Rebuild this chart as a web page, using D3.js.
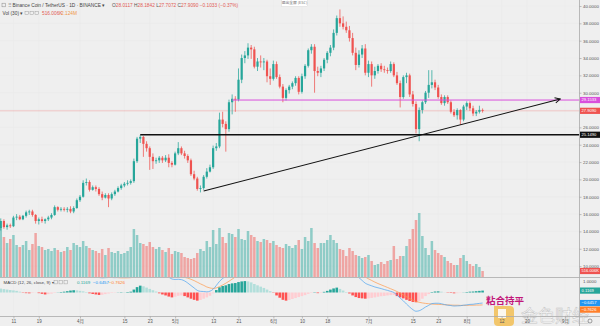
<!DOCTYPE html>
<html>
<head>
<meta charset="utf-8">
<script src="https://cdn.jsdelivr.net/npm/d3@7"></script>
<style>
  html, body { margin: 0; padding: 0; background: #efefef; }
  svg { display: block; font-family: "Liberation Sans", Arial, sans-serif; }
</style>
</head>
<body>
<svg id="chart" width="600" height="326"></svg>
<script>
// ---- data: BNB/USDT daily, first candle 2019-03-07 ----
const firstDay = "2019-03-07";

// [open, high, low, close]
const candles = [
  [14.4,15.5,14.1,15.2],[15.2,15.4,14.3,14.5],[14.5,14.9,14.2,14.7],[14.7,14.9,14.4,14.6],[14.6,15.8,14.5,15.6],
  [15.6,16.0,15.3,15.7],[15.7,15.9,15.3,15.4],[15.4,15.9,15.3,15.8],[15.8,16.4,15.6,16.2],[16.2,16.5,15.9,16.3],
  [16.3,16.5,15.7,15.9],[15.9,16.0,14.9,15.2],[15.2,15.6,14.8,15.4],[15.4,15.7,15.0,15.2],[15.2,15.5,14.9,15.4],
  [15.4,15.8,15.2,15.6],[15.6,16.1,15.4,15.9],[15.9,17.0,15.8,16.8],[16.8,16.9,16.3,16.5],[16.5,16.8,16.3,16.6],
  [16.6,16.8,16.3,16.5],[16.5,16.8,16.2,16.6],[16.6,16.9,16.1,16.3],[16.3,16.9,16.1,16.7],[16.7,17.8,16.6,17.6],
  [17.6,18.2,17.4,18.0],[18.0,19.9,17.9,19.6],[19.6,20.1,19.3,19.7],[19.7,19.9,18.6,18.8],[18.8,19.3,18.7,19.1],
  [19.1,19.3,18.6,18.9],[18.9,19.1,18.1,18.3],[18.3,18.6,17.6,17.9],[17.9,18.4,17.8,18.2],[18.2,18.4,16.8,17.8],
  [17.8,18.5,17.6,18.3],[18.3,18.8,18.1,18.6],[18.6,19.2,18.5,19.0],[19.0,19.5,18.8,19.3],[19.3,19.7,19.1,19.5],
  [19.5,19.9,19.3,19.6],[19.6,20.0,19.4,19.8],[19.8,22.4,19.6,22.1],[22.1,24.9,21.9,24.7],[24.7,25.1,24.2,24.9],
  [24.9,25.0,22.6,24.1],[24.1,24.4,23.2,23.6],[23.6,23.8,21.1,22.6],[22.6,23.0,21.2,22.1],[22.1,22.5,21.8,22.2],
  [22.2,22.7,21.9,22.5],[22.5,22.7,21.9,22.2],[22.2,22.8,22.0,22.5],[22.5,22.9,21.4,21.9],[21.9,22.1,21.4,21.7],
  [21.7,23.2,21.6,23.0],[23.0,24.3,22.8,23.6],[23.6,23.8,22.8,23.0],[23.0,23.3,22.4,22.7],[22.7,22.9,21.9,22.2],
  [22.2,22.4,20.4,20.6],[20.6,21.0,19.9,20.1],[20.1,20.3,18.7,18.9],[18.9,19.3,18.5,19.0],[19.0,20.5,18.8,20.3],
  [20.3,21.3,20.1,20.9],[20.9,21.7,20.8,21.4],[21.4,23.9,21.2,23.6],[23.6,24.2,23.3,23.8],[23.8,27.7,23.6,26.9],
  [26.9,27.8,26.0,26.4],[26.4,26.7,23.2,25.8],[25.8,29.2,25.5,28.9],[28.9,29.8,27.5,29.3],[29.3,29.6,27.8,29.2],
  [29.2,32.8,29.0,31.5],[31.5,34.4,31.1,34.0],[34.0,34.8,33.4,34.3],[34.3,35.7,33.9,35.2],[35.2,35.5,33.9,35.0],
  [35.0,35.3,32.8,33.0],[33.0,34.0,32.5,33.6],[33.6,34.3,32.9,33.5],[33.5,34.0,32.6,33.6],[33.6,33.8,31.2,31.9],
  [31.9,32.8,30.9,31.6],[31.6,33.7,31.4,33.3],[33.3,33.6,31.6,31.8],[31.8,32.1,30.5,30.7],[30.7,31.0,28.9,29.4],
  [29.4,30.5,29.1,30.3],[30.3,30.9,29.9,30.7],[30.7,31.3,30.4,31.1],[31.1,31.9,30.8,31.7],[31.7,31.9,29.8,30.1],
  [30.1,32.2,29.9,31.9],[31.9,33.3,31.6,33.1],[33.1,35.1,32.9,34.9],[34.9,35.6,34.5,35.3],[35.3,35.6,30.0,32.5],
  [32.5,33.0,31.9,32.3],[32.3,33.1,31.8,32.8],[32.8,34.0,32.5,33.8],[33.8,34.8,33.4,34.6],[34.6,35.5,34.2,35.2],
  [35.2,37.3,34.9,36.9],[36.9,38.9,36.6,38.6],[38.6,39.6,37.6,38.0],[38.0,38.8,37.3,37.6],[37.6,38.2,36.9,37.2],
  [37.2,37.7,35.9,36.3],[36.3,36.9,34.3,34.6],[34.6,35.2,32.6,33.2],[33.2,34.9,32.9,34.4],[34.4,35.5,34.0,35.1],
  [35.1,35.6,32.0,32.3],[32.3,33.7,31.8,33.3],[33.3,33.6,30.7,32.0],[32.0,33.0,31.6,32.5],[32.5,33.3,32.2,33.1],
  [33.1,33.4,32.4,32.7],[32.7,33.1,32.3,32.6],[32.6,32.9,32.2,32.5],[32.5,33.6,32.3,33.3],[33.3,33.5,31.8,32.0],
  [32.0,32.4,30.9,31.1],[31.1,31.4,28.3,29.5],[29.5,32.0,29.3,31.8],[31.8,32.3,31.1,32.0],[32.0,32.2,29.5,29.8],
  [29.8,30.2,28.4,28.7],[28.7,29.0,25.3,25.8],[25.8,28.3,24.4,28.0],[28.0,29.1,27.6,28.9],[28.9,30.2,28.7,30.0],
  [30.0,32.6,29.4,30.9],[30.9,32.6,30.5,31.2],[31.2,31.5,30.3,30.6],[30.6,30.9,29.3,29.5],[29.5,29.8,28.6,28.8],
  [28.8,29.7,28.5,29.5],[29.5,29.7,28.7,28.9],[28.9,29.1,27.6,27.8],[27.8,28.1,27.2,27.4],[27.4,28.2,26.9,28.0],
  [28.0,28.1,26.3,26.9],[26.9,28.6,26.7,28.4],[28.4,29.0,28.0,28.8],[28.8,29.0,27.9,28.2],[28.2,28.5,27.3,27.6],
  [27.6,28.0,27.3,27.8],[27.8,28.5,27.6,28.0123],[28.0117,28.1842,27.7072,27.9090]
];

// daily volume, thousands of BNB
const volumes = [
  4300,3440,2924,3268,3612,2752,2580,2752,3096,2322, 2838,3784,2666,2580,2322,2408,2236,2494,2322,2150,
  2236,2580,2322,2924,2752,2580,3096,2666,2494,2322, 2236,2064,2408,1892,2494,2150,2064,2236,1978,2064,
  2236,2580,4128,3612,2924,2838,2666,3010,2580,2408, 2580,2322,2150,2494,1978,2236,2150,2064,1720,1634,
  1548,1634,2064,2408,2236,3096,2580,4042,2838,4214, 3440,2924,3784,3698,3440,4128,3268,3182,3956,3612,
  3440,3096,3010,3268,3182,2924,3096,2752,2580,2494, 2838,2666,2494,2752,3182,2408,3440,3096,4214,2924,
  2494,2924,2924,3182,3612,3182,2924,2408,2322,1806, 2494,2236,1892,1806,1634,1720,1892,1376,1032,1118,
  1290,1118,1376,1462,2666,1548,1806,1806,2666,3268, 4128,4902,5504,3526,2494,1892,3096,2322,2064,1892,
  1720,1376,1204,1032,1032,1634,1892,1376,1118,946, 1118,860,516.006
];
const volumeMA = 2124;

// MACD (12, 26, close, 9)
const macdLine = [
  1.84,1.79,1.74,1.69,1.65,1.60,1.53,1.44,1.41,1.39, 1.40,1.41,1.36,1.30,1.23,1.22,1.22,1.23,1.25,1.25,
  1.25,1.27,1.30,1.32,1.31,1.28,1.24,1.19,1.10,1.04, 0.98,0.92,0.90,0.91,0.92,0.92,0.91,0.92,0.92,0.92,
  0.93,0.96,1.12,1.32,1.48,1.51,1.49,1.46,1.41,1.35, 1.24,1.15,1.06,0.94,0.83,0.80,0.81,0.79,0.71,0.58,
  0.43,0.28,0.13,0.07,0.06,0.04,0.08,0.20,0.43,0.68, 0.86,1.01,1.21,1.38,1.53,1.72,1.90,2.06,2.18,2.25,
  2.27,2.29,2.29,2.27,2.21,2.13,2.03,1.85,1.67,1.47, 1.33,1.28,1.25,1.23,1.22,1.22,1.23,1.28,1.31,1.35,
  1.29,1.30,1.37,1.45,1.56,1.67,1.78,1.76,1.70,1.63, 1.52,1.34,1.12,0.91,0.74,0.57,0.48,0.41,0.34,0.29,
  0.24,0.18,0.13,0.07,0.00,-0.16,-0.34,-0.51,-0.71,-0.89, -1.05,-1.15,-1.12,-1.02,-0.89,-0.79,-0.68,-0.66,-0.66,-0.69,
  -0.74,-0.78,-0.80,-0.83,-0.82,-0.81,-0.78,-0.76,-0.73,-0.72, -0.69,-0.67,-0.6457
];
const signalLine = [
  1.60,1.58,1.56,1.54,1.52,1.50,1.48,1.46,1.45,1.44, 1.43,1.42,1.40,1.38,1.35,1.32,1.29,1.26,1.24,1.22,
  1.20,1.19,1.18,1.18,1.18,1.18,1.17,1.16,1.15,1.13, 1.10,1.07,1.04,1.01,0.98,0.95,0.93,0.91,0.90,0.90,
  0.90,0.91,0.94,0.99,1.06,1.13,1.19,1.24,1.27,1.29, 1.29,1.27,1.24,1.19,1.13,1.06,1.01,0.97,0.93,0.88,
  0.81,0.73,0.63,0.53,0.44,0.34,0.28,0.25,0.28,0.36, 0.46,0.57,0.69,0.82,0.95,1.08,1.22,1.36,1.50,1.63,
  1.75,1.85,1.93,1.99,2.03,2.05,2.05,2.03,1.99,1.92, 1.83,1.74,1.65,1.57,1.50,1.44,1.39,1.36,1.34,1.33,
  1.33,1.33,1.33,1.35,1.38,1.42,1.48,1.54,1.58,1.60, 1.58,1.52,1.40,1.25,1.10,0.95,0.84,0.74,0.64,0.55,
  0.47,0.39,0.31,0.23,0.15,0.06,-0.04,-0.15,-0.26,-0.37, -0.47,-0.55,-0.60,-0.64,-0.67,-0.69,-0.71,-0.72,-0.73,-0.74,
  -0.75,-0.76,-0.77,-0.78,-0.78,-0.79,-0.79,-0.79,-0.78,-0.78, -0.77,-0.77,-0.7626
];
const histogram = [
  0.24,0.21,0.18,0.15,0.13,0.10,0.05,-0.02,-0.04,-0.05, -0.03,-0.01,-0.04,-0.08,-0.12,-0.10,-0.07,-0.03,0.01,0.03,
  0.05,0.08,0.12,0.14,0.13,0.10,0.07,0.03,-0.05,-0.09, -0.12,-0.15,-0.14,-0.10,-0.06,-0.03,-0.02,0.01,0.02,0.02,
  0.03,0.05,0.18,0.33,0.42,0.38,0.30,0.22,0.14,0.06, -0.05,-0.12,-0.18,-0.25,-0.30,-0.26,-0.20,-0.18,-0.22,-0.30,
  -0.38,-0.45,-0.50,-0.46,-0.38,-0.30,-0.20,-0.05,0.15,0.32, 0.40,0.44,0.52,0.56,0.58,0.64,0.68,0.70,0.68,0.62,
  0.52,0.44,0.36,0.28,0.18,0.08,-0.02,-0.18,-0.32,-0.45, -0.50,-0.46,-0.40,-0.34,-0.28,-0.22,-0.16,-0.08,-0.03,0.02,
  -0.04,-0.03,0.04,0.10,0.18,0.25,0.30,0.22,0.12,0.03, -0.06,-0.18,-0.28,-0.34,-0.36,-0.38,-0.36,-0.33,-0.30,-0.26,
  -0.23,-0.21,-0.18,-0.16,-0.15,-0.22,-0.30,-0.36,-0.45,-0.52, -0.58,-0.60,-0.52,-0.38,-0.22,-0.10,0.03,0.06,0.07,0.05,
  0.01,-0.02,-0.03,-0.05,-0.04,-0.02,0.01,0.03,0.05,0.06, 0.08,0.10,0.1169
];

// axis ticks
const priceTicks = [40, 38, 36, 34, 32, 30, 28, 26, 24, 22, 20, 18, 16, 14, 12, 10];
const macdTicks = [1];
const timeTickDates = ["2019-03-11","2019-03-19","2019-04-01","2019-04-15","2019-04-23","2019-05-01",
  "2019-05-13","2019-05-21","2019-06-01","2019-06-10","2019-06-18","2019-07-01","2019-07-15",
  "2019-07-23","2019-08-01","2019-08-12","2019-08-20","2019-09-01"];
const timeTickLabels = ["11","19","4月","15","23","5月","13","21","6月","10","18","7月","15","23","8月","12","20","9月"];

// drawn levels
const resistanceLevel = 29.1533;   // magenta horizontal
const supportLevel = 25.1490;      // black horizontal
const resistanceFrom = "2019-05-19";
const supportFrom = "2019-04-20";
const trendStart = { date: "2019-05-10", price: 18.66 };
const trendEnd = { date: "2019-08-30T12:00:00Z", price: 29.27 };

// ---- layout ----
const W = 600, H = 326;
const axisX = 579.5;
const mainBottom = 277.5, macdBottom = 316.5;
const upColor = "#26a69a", downColor = "#ef5350";

const svg = d3.select("#chart");
svg.append("rect").attr("width", W).attr("height", H).attr("fill", "#efefef");

const dates = candles.map((_, i) => d3.utcDay.offset(new Date(firstDay + "T00:00:00Z"), i));
const parse = s => new Date(s.length > 10 ? s : s + "T00:00:00Z");

const x = d3.scaleUtc().domain([parse("2019-03-07"), parse("2019-09-01")]).range([0.75, 565]);
const y = d3.scaleLinear().domain([10, 40]).range([266.1, 6]);
const yVol = d3.scaleLinear().domain([0, d3.max(volumes)]).range([277, 213]);
const yMacd = d3.scaleLinear().domain([0, 1]).range([292.5, 276.2]);

const defs = svg.append("defs");
defs.append("clipPath").attr("id", "clipMain").append("rect")
  .attr("x", 0).attr("y", 0).attr("width", axisX).attr("height", mainBottom);
defs.append("clipPath").attr("id", "clipMacd").append("rect")
  .attr("x", 0).attr("y", mainBottom + 0.5).attr("width", axisX).attr("height", macdBottom - mainBottom - 1);
defs.append("marker").attr("id", "arrowHead")
  .attr("viewBox", "0 0 8 8").attr("refX", 7).attr("refY", 4)
  .attr("markerWidth", 7).attr("markerHeight", 7).attr("markerUnits", "userSpaceOnUse")
  .attr("orient", "auto")
  .append("path").attr("d", "M1,1 L7,4 L1,7").attr("fill", "none")
  .attr("stroke", "#111").attr("stroke-width", 1.1);

// grid
const grid = svg.append("g").attr("stroke", "#e8e8e8").attr("stroke-width", 0.5);
grid.selectAll("line.h").data(priceTicks).join("line")
  .attr("x1", 0).attr("x2", axisX).attr("y1", d => y(d)).attr("y2", d => y(d));
grid.selectAll("line.v").data(timeTickDates).join("line")
  .attr("x1", d => x(parse(d))).attr("x2", d => x(parse(d))).attr("y1", 0).attr("y2", macdBottom);

// ---- main pane ----
const main = svg.append("g").attr("clip-path", "url(#clipMain)");
const isUp = i => candles[i][3] >= candles[i][0];

// volume bars
main.append("g").selectAll("rect").data(volumes).join("rect")
  .attr("x", (d, i) => x(dates[i]) - 1.25)
  .attr("width", 2.5)
  .attr("y", d => yVol(d))
  .attr("height", d => 277 - yVol(d))
  .attr("fill", (d, i) => isUp(i) ? "rgba(38,166,154,0.48)" : "rgba(239,83,80,0.48)");

// last price line
const lastClose = candles[candles.length - 1][3];
main.append("line").attr("x1", 0).attr("x2", axisX)
  .attr("y1", y(lastClose)).attr("y2", y(lastClose))
  .attr("stroke", downColor).attr("stroke-opacity", 0.45).attr("stroke-width", 0.6);

// candles
const cg = main.append("g");
cg.selectAll("line").data(candles).join("line")
  .attr("x1", (d, i) => x(dates[i])).attr("x2", (d, i) => x(dates[i]))
  .attr("y1", d => y(d[1])).attr("y2", d => y(d[2]))
  .attr("stroke", (d, i) => isUp(i) ? upColor : downColor).attr("stroke-width", 0.75);
cg.selectAll("rect").data(candles).join("rect")
  .attr("x", (d, i) => x(dates[i]) - 1.1).attr("width", 2.2)
  .attr("y", d => y(Math.max(d[0], d[3])))
  .attr("height", d => Math.max(0.7, Math.abs(y(d[0]) - y(d[3]))))
  .attr("fill", (d, i) => isUp(i) ? upColor : downColor);

// horizontal levels and trend line
main.append("line").attr("x1", x(parse(resistanceFrom))).attr("x2", axisX)
  .attr("y1", y(resistanceLevel)).attr("y2", y(resistanceLevel))
  .attr("stroke", "#d94fdc").attr("stroke-width", 1);
main.append("line").attr("x1", x(parse(supportFrom))).attr("x2", axisX)
  .attr("y1", y(supportLevel)).attr("y2", y(supportLevel))
  .attr("stroke", "#111").attr("stroke-width", 1.3);
main.append("line")
  .attr("x1", x(parse(trendStart.date))).attr("y1", y(trendStart.price))
  .attr("x2", x(parse(trendEnd.date))).attr("y2", y(trendEnd.price))
  .attr("stroke", "#111").attr("stroke-width", 1.1)
  .attr("marker-end", "url(#arrowHead)");

// ---- MACD pane ----
const mp = svg.append("g").attr("clip-path", "url(#clipMacd)");
mp.append("g").selectAll("rect").data(histogram).join("rect")
  .attr("x", (d, i) => x(dates[i]) - 1.3).attr("width", 2.6)
  .attr("y", d => Math.min(yMacd(d), yMacd(0)))
  .attr("height", d => Math.abs(yMacd(d) - yMacd(0)))
  .attr("fill", (d, i) => {
    const prev = i > 0 ? histogram[i - 1] : d;
    if (d >= 0) return d > prev ? "#26a69a" : "#b2dfdb";
    return d < prev ? "#ff5252" : "#ffcdd2";
  });
const macdPath = d3.line().x((d, i) => x(dates[i])).y(d => yMacd(d)).curve(d3.curveMonotoneX);
mp.append("path").attr("d", macdPath(signalLine)).attr("fill", "none")
  .attr("stroke", "#ff9a4a").attr("stroke-width", 0.7);
mp.append("path").attr("d", macdPath(macdLine)).attr("fill", "none")
  .attr("stroke", "#4aa3f0").attr("stroke-width", 0.7);

// ---- watermark (under the axes text) ----
const wm = svg.append("g").attr("opacity", 0.85);
wm.append("path").attr("d", "M494,306 h16 a4,4 0 0 1 4,4 v12 a4,4 0 0 1 -4,4 h-12 a4,4 0 0 1 -4,-4 z")
  .attr("fill", "#f3b73a").attr("opacity", 0.85);
wm.append("rect").attr("x", 498).attr("y", 309).attr("width", 8).attr("height", 9).attr("fill", "#fff").attr("opacity", 0.9);
wm.append("text").attr("x", 521).attr("y", 322.3).attr("font-size", 17)
  .attr("font-family", "'Noto Sans CJK SC', sans-serif")
  .attr("fill", "#fff").attr("stroke", "#bdbdbd").attr("stroke-width", 0.5).text("金色财经");

// ---- frames ----
const frame = svg.append("g").attr("stroke", "#a9a9a9").attr("stroke-width", 0.8);
frame.append("line").attr("x1", 0).attr("x2", W).attr("y1", mainBottom).attr("y2", mainBottom);
frame.append("line").attr("x1", 0).attr("x2", W).attr("y1", macdBottom).attr("y2", macdBottom);
frame.append("line").attr("x1", axisX).attr("x2", axisX).attr("y1", 0).attr("y2", H);

// price axis
const fmt4 = d3.format(".4f");
const badges = [
  { y: y(resistanceLevel), fill: "#d94fdc", text: fmt4(resistanceLevel) },
  { y: y(lastClose), fill: "#ef5350", text: fmt4(lastClose) },
  { y: y(supportLevel), fill: "#111111", text: fmt4(supportLevel) },
  { y: yVol(volumes[volumes.length - 1]), fill: "#ef5350",
    text: d3.format(".3f")(volumes[volumes.length - 1]) + "K" }
];
const visibleTicks = priceTicks.filter(t => badges.every(b => Math.abs(y(t) - b.y) > 3));
const pAxis = svg.append("g").attr("transform", `translate(${axisX},0)`)
  .call(d3.axisRight(y).tickValues(visibleTicks).tickFormat(fmt4).tickSize(2).tickPadding(1.5));
pAxis.select(".domain").remove();
pAxis.selectAll("line").attr("stroke", "#999").attr("stroke-width", 0.6);
pAxis.selectAll("text").attr("font-size", 4.4).attr("fill", "#555")
  .attr("font-family", "Liberation Sans, Arial, sans-serif");

// MACD axis
const mAxis = svg.append("g").attr("transform", `translate(${axisX},0)`);
mAxis.selectAll("text").data(macdTicks).join("text")
  .attr("x", 3.5).attr("y", d => Math.max(yMacd(d), mainBottom + 4))
  .attr("dy", "0.35em").attr("font-size", 4.4).attr("fill", "#555").text(fmt4);

// value badges on the right
function drawBadges(list) {
  const sorted = list.slice().sort((a, b) => a.y - b.y);
  for (let k = 1; k < sorted.length; k++) {
    if (sorted[k].y - sorted[k - 1].y < 6.6) sorted[k].y = sorted[k - 1].y + 6.6;
  }
  const bg = svg.append("g");
  sorted.forEach(b => {
    bg.append("rect").attr("x", axisX + 0.5).attr("y", b.y - 3.1)
      .attr("width", W - axisX - 0.5).attr("height", 6.2).attr("fill", b.fill);
    bg.append("text").attr("x", axisX + 2).attr("y", b.y).attr("dy", "0.35em")
      .attr("font-size", 4.1).attr("fill", "#fff").text(b.text);
  });
}
drawBadges(badges);
const lastI = histogram.length - 1;
drawBadges([
  { y: yMacd(histogram[lastI]), fill: "#26a69a", text: fmt4(histogram[lastI]) },
  { y: yMacd(macdLine[lastI]), fill: "#2196f3", text: fmt4(macdLine[lastI]) },
  { y: yMacd(signalLine[lastI]), fill: "#ff7f2a", text: fmt4(signalLine[lastI]) }
]);

// time axis
const tAxis = svg.append("g").attr("transform", `translate(0,${macdBottom})`)
  .call(d3.axisBottom(x).tickValues(timeTickDates.map(parse))
    .tickFormat((d, i) => timeTickLabels[i]).tickSize(2).tickPadding(1.2));
tAxis.select(".domain").remove();
tAxis.selectAll("line").attr("stroke", "#999").attr("stroke-width", 0.6);
tAxis.selectAll("text").attr("font-size", 4.5).attr("fill", "#555")
  .attr("font-family", "Liberation Sans, 'Noto Sans CJK SC', sans-serif");

// settings glyph in the corner
svg.append("circle").attr("cx", 590).attr("cy", 321).attr("r", 2)
  .attr("fill", "none").attr("stroke", "#666").attr("stroke-width", 0.6);

// ---- legends ----
const legend = svg.append("g").attr("font-size", 4.8).attr("fill", "#444");
legend.append("rect").attr("x", 2).attr("y", 3.2).attr("width", 3.6).attr("height", 3.6)
  .attr("fill", "none").attr("stroke", "#888").attr("stroke-width", 0.5);
legend.append("text").attr("x", 8).attr("y", 7).attr("fill", "#888").text("⠿");
legend.append("text").attr("x", 12.5).attr("y", 7).text("Binance Coin / TetherUS · 1D · BINANCE ▾");
const last = candles[lastI];
const prevClose = candles[lastI - 1][3];
const change = last[3] - prevClose;
const ohlc = legend.append("text").attr("x", 112).attr("y", 7);
[["O", last[0]], ["H", last[1]], ["L", last[2]], ["C", last[3]]].forEach(([k, v]) => {
  ohlc.append("tspan").attr("fill", "#555").text(k);
  ohlc.append("tspan").attr("fill", "#e25b55").text(fmt4(v) + " ");
});
ohlc.append("tspan").attr("fill", "#e25b55")
  .text(`${fmt4(change).replace("-", "−")} (${d3.format(".2f")(change / prevClose * 100).replace("-", "−")}%)`);

legend.append("text").attr("x", 2.5).attr("y", 15).text("Vol (30) ▾");
[25, 30, 35].forEach(px => legend.append("rect").attr("x", px).attr("y", 11.3)
  .attr("width", 3.4).attr("height", 3.4).attr("fill", "none").attr("stroke", "#999").attr("stroke-width", 0.45));
legend.append("text").attr("x", 42).attr("y", 15).attr("fill", "#e25b55")
  .text(d3.format(".3f")(volumes[lastI]) + "K");
legend.append("text").attr("x", 61).attr("y", 15).attr("fill", "#f0984a")
  .text(d3.format(".3f")(volumeMA / 1000) + "M");

const ml = svg.append("g").attr("font-size", 4.4).attr("fill", "#444");
ml.append("text").attr("x", 3.5).attr("y", 284).text("MACD (12, 26, close, 9) ▾");
[54, 59, 64].forEach(px => ml.append("rect").attr("x", px).attr("y", 280.6)
  .attr("width", 3.3).attr("height", 3.3).attr("fill", "none").attr("stroke", "#999").attr("stroke-width", 0.45));
ml.append("text").attr("x", 77).attr("y", 284).attr("fill", "#26a69a").text(fmt4(histogram[lastI]));
ml.append("text").attr("x", 93).attr("y", 284).attr("fill", "#2196f3").text(fmt4(macdLine[lastI]));
ml.append("text").attr("x", 109).attr("y", 284).attr("fill", "#ff7f2a").text(fmt4(signalLine[lastI]));

// full-screen hint box
svg.append("rect").attr("x", 281.5).attr("y", -1).attr("width", 26).attr("height", 7.5)
  .attr("fill", "#fff").attr("stroke", "#d0d0d0").attr("stroke-width", 0.4);
svg.append("text").attr("x", 294.5).attr("y", 4.3).attr("text-anchor", "middle")
  .attr("font-size", 3.8).attr("fill", "#666")
  .attr("font-family", "'Noto Sans CJK SC', sans-serif").text("退出全屏 (ESC)");

// annotation
svg.append("text").attr("x", 486).attr("y", 304).attr("font-size", 9.5).attr("font-weight", "bold")
  .attr("fill", "#c2187a").attr("font-family", "'Noto Sans CJK SC', sans-serif").text("粘合持平");
</script>
</body>
</html>
